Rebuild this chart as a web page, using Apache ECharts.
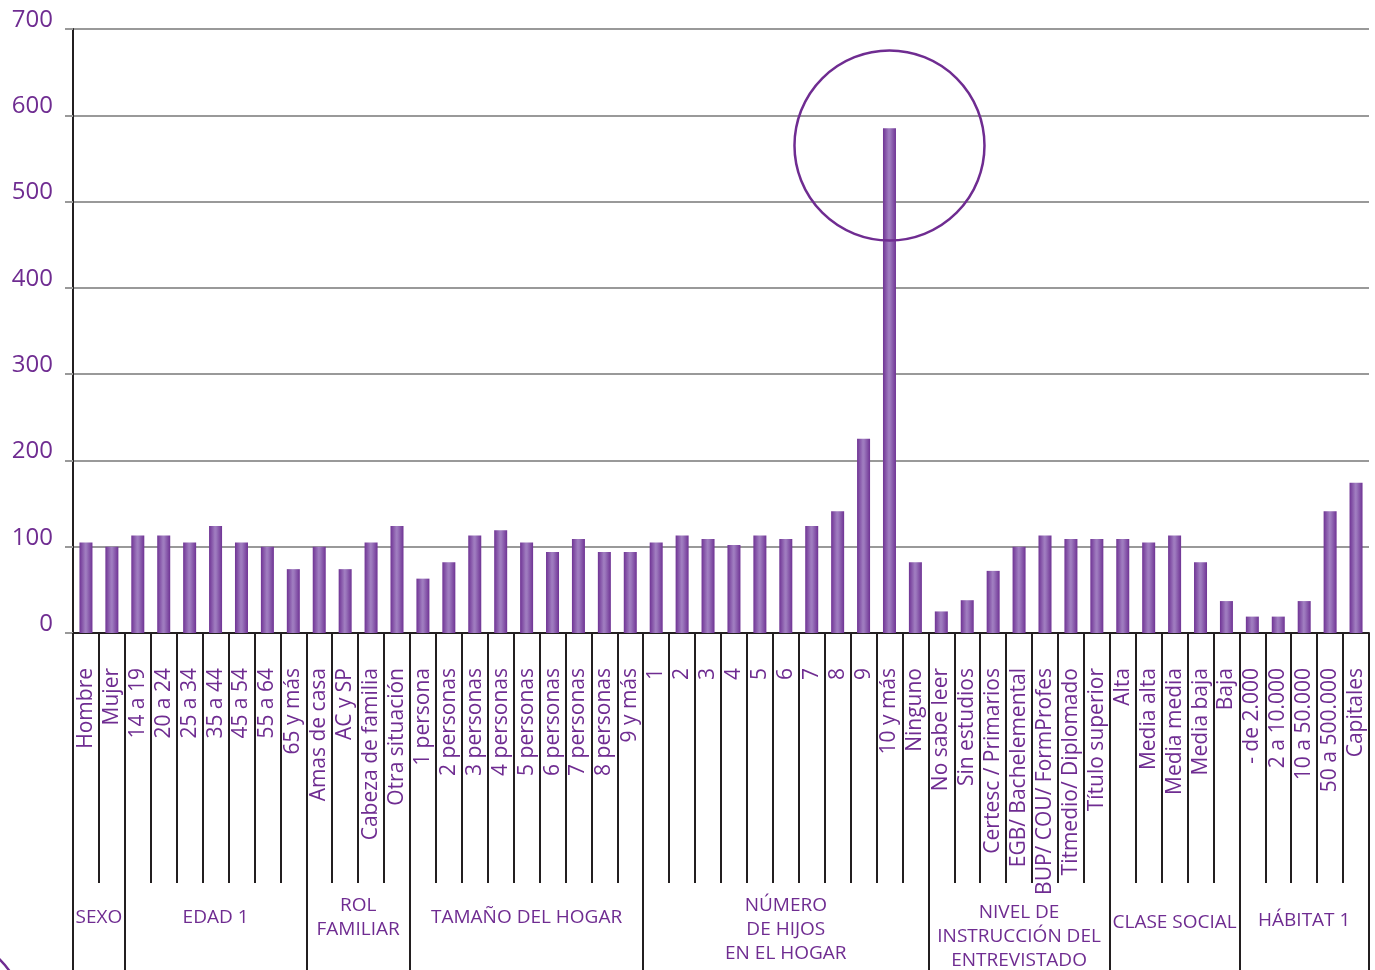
<!DOCTYPE html>
<html>
<head>
<meta charset="utf-8">
<script src="https://cdn.jsdelivr.net/npm/echarts@6/dist/echarts.min.js"></script>
<style>
html,body{margin:0;padding:0;background:#fff;}
#c{width:1375px;height:970px;}
</style>
</head>
<body>
<div id="c"></div>
<script>
// ---- data ----
const categories = [
  'Hombre','Mujer',
  '14 a 19','20 a 24','25 a 34','35 a 44','45 a 54','55 a 64','65 y más',
  'Amas de casa','AC y SP','Cabeza de familia','Otra situación',
  '1 persona','2 personas','3 personas','4 personas','5 personas','6 personas','7 personas','8 personas','9 y más',
  '1','2','3','4','5','6','7','8','9','10 y más','Ninguno',
  'No sabe leer','Sin estudios','Certesc / Primarios','EGB/ Bachelemental','BUP/ COU/ FormProfes','Titmedio/ Diplomado','Título superior',
  'Alta','Media alta','Media media','Media baja','Baja',
  '- de 2.000','2 a 10.000','10 a 50.000','50 a 500.000','Capitales'
];
const values = [
  105, 100,
  113, 113, 105, 124, 105, 100, 74,
  100, 74, 105, 124,
  63, 82, 113, 119, 105, 94, 109, 94, 94,
  105, 113, 109, 102, 113, 109, 124, 141, 225, 585, 82,
  25, 38, 72, 100, 113, 109, 109,
  109, 105, 113, 82, 37,
  19, 19, 37, 141, 174
];
const groupNames = ['SEXO','EDAD 1','ROL\nFAMILIAR','TAMAÑO DEL HOGAR','NÚMERO\nDE HIJOS\nEN EL HOGAR','NIVEL DE\nINSTRUCCIÓN DEL\nENTREVISTADO','CLASE SOCIAL','HÁBITAT 1'];
const groupSizes = [2, 7, 4, 9, 11, 7, 5, 5];
const yTicks = [0, 100, 200, 300, 400, 500, 600, 700];
const highlight = { category: '10 y más', value: 565 };

// derived boundaries
const groupBounds = [0];
groupSizes.forEach(s => groupBounds.push(groupBounds[groupBounds.length - 1] + s));
const innerBounds = [];
for (let i = 1; i < categories.length; i++) if (groupBounds.indexOf(i) < 0) innerBounds.push(i);
const groupCenters = groupSizes.map((s, i) => groupBounds[i] + s / 2);

const purple = '#6f2c91';
const font = 'Open Sans';
const N = categories.length;

// leading spacer heights (vertical placement of each group title)
const spacer = [0, 0, 0, 0, 24, 38, 10, 6];
function groupLabel(v) {
  const idx = groupCenters.indexOf(v);
  if (idx < 0) return '';
  const lines = groupNames[idx].split('\n').map(s => '{n|' + s + '}');
  if (spacer[idx]) lines.unshift('{s' + idx + '|}');
  return lines.join('\n');
}
const richStyles = {n: {color: purple, fontFamily: font, fontSize: 19, lineHeight: 24}};
spacer.forEach((h, i) => { richStyles['s' + i] = {lineHeight: h, fontSize: 1, height: h}; });

const chart = echarts.init(document.getElementById('c'), null, {renderer: 'canvas'});
chart.setOption({
  animation: false,
  backgroundColor: '#fff',
  grid: {left: 73, right: 6, top: 29, bottom: 337, containLabel: false, outerBoundsMode: 'none'},
  xAxis: [
    {
      type: 'category', data: categories, position: 'bottom',
      axisLine: {show: true, lineStyle: {color: '#231f20', width: 2}},
      axisTick: {show: false},
      axisLabel: {rotate: 90, margin: 35, color: purple, fontFamily: font, fontSize: 21, interval: 0}
    },
    {
      type: 'value', min: 0, max: N, position: 'bottom', gridIndex: 0,
      axisLine: {show: false}, splitLine: {show: false},
      axisTick: {show: true, customValues: innerBounds, length: 250, inside: false, lineStyle: {color: '#231f20', width: 2}},
      axisLabel: {show: false}
    },
    {
      type: 'value', min: 0, max: N, position: 'bottom', gridIndex: 0,
      axisLine: {show: false}, splitLine: {show: false},
      axisTick: {show: true, customValues: groupBounds, length: 340, lineStyle: {color: '#231f20', width: 2}},
      axisLabel: {
        show: true, customValues: groupCenters, margin: 285, verticalAlign: 'middle', align: 'center',
        color: purple, fontFamily: font, fontSize: 19, lineHeight: 24,
        formatter: groupLabel,
        rich: richStyles
      }
    }
  ],
  yAxis: {
    type: 'value', min: 0, max: 700, interval: 100,
    axisLine: {show: true, lineStyle: {color: '#231f20', width: 2}},
    axisTick: {show: true, length: 8, lineStyle: {color: '#999', width: 2}},
    splitLine: {show: true, lineStyle: {color: '#999', width: 2}},
    axisLabel: {
      color: purple, fontFamily: font, fontSize: 24, margin: 20, verticalAlign: 'bottom', lineHeight: 18,
      customValues: yTicks
    }
  },
  series: [{
    type: 'bar',
    xAxisIndex: 0,
    data: values,
    barWidth: 13,
    itemStyle: {
      color: new echarts.graphic.LinearGradient(0, 0, 1, 0, [
        {offset: 0, color: '#6f3394'},
        {offset: 0.45, color: '#a07dc0'},
        {offset: 0.55, color: '#9c78bd'},
        {offset: 1, color: '#6f3394'}
      ])
    },
    markPoint: {
      symbol: 'circle',
      symbolSize: 190,
      silent: true,
      label: {show: false},
      itemStyle: {color: 'rgba(0,0,0,0)', borderColor: purple, borderWidth: 2.5},
      data: [{coord: [highlight.category, highlight.value]}]
    }
  }],
  graphic: [{
    type: 'circle', shape: {cx: -60, cy: 1020, r: 85}, silent: true,
    style: {fill: 'none', stroke: purple, lineWidth: 2.5}
  }]
});
</script>
</body>
</html>
